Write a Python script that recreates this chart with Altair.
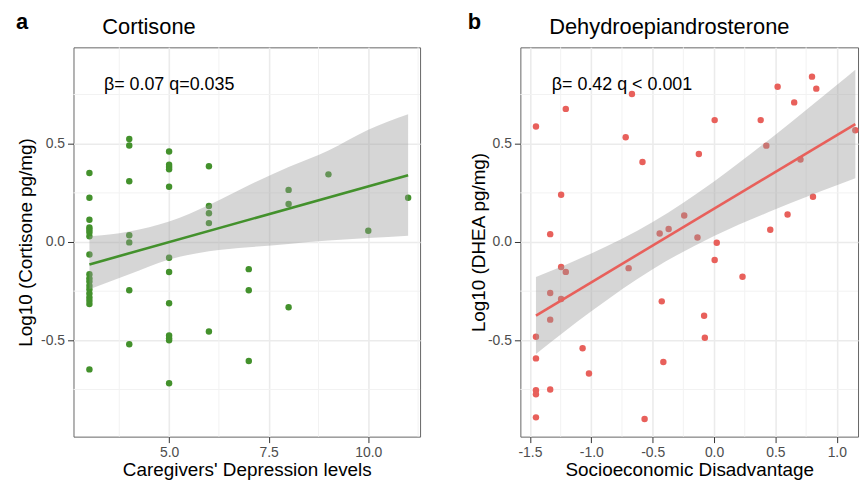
import altair as alt
import pandas as pd

FONT = "Liberation Sans"

# ---------------- Panel a: Cortisone ----------------
depression_levels = [3, 3, 3, 3, 3, 3, 3, 3, 3, 3, 3, 3, 3, 3, 3, 3, 3, 3,
                     4, 4, 4, 4, 4, 4, 4,
                     5, 5, 5, 5, 5, 5, 5, 5, 5, 5, 5, 5,
                     6, 6, 6, 6, 6,
                     7, 7, 7,
                     8, 8, 8,
                     9, 10, 11]
cortisone_log10 = [0.351, 0.225, 0.113, 0.074, 0.062, 0.050, 0.029, -0.064, -0.164,
                   -0.185, -0.201, -0.223, -0.240, -0.262, -0.282, -0.299, -0.316, -0.648,
                   0.524, 0.491, 0.309, 0.034, -0.002, -0.245, -0.520,
                   0.460, 0.393, 0.381, 0.370, 0.281, -0.080, -0.153, -0.312, -0.475,
                   -0.489, -0.500, -0.718,
                   0.385, 0.183, 0.146, 0.096, -0.455,
                   -0.138, -0.245, -0.605,
                   0.265, 0.193, -0.332,
                   0.344, 0.057, 0.225]
fit_a_line_x = [3, 11]
fit_a_line_y = [-0.114, 0.340]
band_a_x = [3, 4, 5, 6, 7, 8, 9, 10, 11]
band_a_lower = [-0.240, -0.164, -0.089, -0.047, -0.027, -0.010, 0.007, 0.020, 0.032]
band_a_upper = [0.029, 0.054, 0.104, 0.188, 0.289, 0.381, 0.465, 0.571, 0.650]
annot_a = ["\u03b2= 0.07 q=0.035"]
annot_a_x = [5.0]
annot_a_y = [0.80]

# ---------------- Panel b: DHEA ----------------
ses_disadvantage = [-1.451, -1.208, -0.669, -0.720, -0.583, -1.246, -1.335, -0.443, -0.370,
                    -1.246, -1.208, -0.696, -1.335, -1.246, -1.335, -0.426, -1.451, -1.451,
                    -1.071, -1.019, -0.413, -1.451, -1.451, -1.335, -1.451, -0.566,
                    0.798, 0.833, 0.518, 0.653, 0.005, 0.380, -0.124, 0.426, 0.704, 1.151,
                    0.806, 0.599, 0.458, -0.243, -0.135, 0.022, 0.005, 0.232, -0.081, -0.075]
dhea_log10 = [0.587, 0.677, 0.753, 0.533, 0.407, 0.240, 0.040, 0.043, 0.066,
              -0.127, -0.152, -0.133, -0.259, -0.290, -0.395, -0.302, -0.482, -0.592,
              -0.540, -0.669, -0.610, -0.754, -0.774, -0.750, -0.892, -0.900,
              0.841, 0.780, 0.790, 0.710, 0.620, 0.620, 0.448, 0.490, 0.420, 0.568,
              0.230, 0.140, 0.062, 0.135, 0.023, -0.004, -0.092, -0.177, -0.375, -0.487]
fit_b_line_x = [-1.451, 1.151]
fit_b_line_y = [-0.374, 0.600]
band_b_x = [-1.451, -1.0, -0.5, 0.0, 0.5, 1.0, 1.151]
band_b_lower = [-0.570, -0.352, -0.138, 0.030, 0.166, 0.288, 0.324]
band_b_upper = [-0.178, -0.058, 0.102, 0.308, 0.546, 0.798, 0.876]
annot_b = ["\u03b2= 0.42 q < 0.001"]
annot_b_x = [-0.75]
annot_b_y = [0.80]

# ---------------- axes ticks ----------------
y_major = [-0.5, 0.0, 0.5]
y_minor = [-0.75, -0.25, 0.25, 0.75]
a_x_major = [5.0, 7.5, 10.0]
a_x_minor = [3.75, 6.25, 8.75, 11.25]
b_x_major = [-1.5, -1.0, -0.5, 0.0, 0.5, 1.0]
b_x_minor = [-1.25, -0.75, -0.25, 0.25, 0.75]

GREEN = "#43912c"
RED = "#e8605b"
LABEL_EXPR = "replace(format(datum.value, '.1f'), '\u2212', '-')"


def make_axis(values, title_pos, orient):
    common = dict(
        values=values, labelExpr=LABEL_EXPR, labelOverlap=False,
        grid=True, gridColor="#ebebeb", gridWidth=1.6,
        domain=False, ticks=True, tickColor="#333333", tickSize=6, tickWidth=1,
        labelFont=FONT, labelFontSize=14, labelColor="#4d4d4d", labelPadding=3,
        titleFont=FONT, titleFontSize=19, titleFontWeight="normal", titleColor="black",
        titleBaseline="middle",
    )
    if orient == "x":
        common["titleY"] = title_pos
    else:
        common["titleX"] = title_pos
    return alt.Axis(**common)


def panel(xv, yv, lx, ly, bx, blo, bhi, ax_text, ax_x, ax_y, xdom, xmaj, xmin_, color,
          title, tag, tag_dx, xtitle, ytitle, ytitle_x, width):
    xscale = alt.Scale(domain=xdom, nice=False, zero=False)
    yscale = alt.Scale(domain=[-0.99, 0.99], nice=False, zero=False)
    xaxis = make_axis(xmaj, 33, "x")
    yaxis = make_axis(y_major, ytitle_x, "y")

    pts = pd.DataFrame({"x": xv, "y": yv})
    line_df = pd.DataFrame({"x": lx, "y": ly})
    band_df = pd.DataFrame({"x": bx, "lo": blo, "hi": bhi})
    ann_df = pd.DataFrame({"x": ax_x, "y": ax_y, "t": ax_text})
    xminor_df = pd.DataFrame({"x": xmin_})
    yminor_df = pd.DataFrame({"y": y_minor})

    X = lambda: alt.X("x:Q", scale=xscale, axis=xaxis, title=xtitle)
    Y = lambda f="y": alt.Y(f"{f}:Q", scale=yscale, axis=yaxis, title=ytitle)

    xminor = alt.Chart(xminor_df).mark_rule(color="#f2f2f2", strokeWidth=1).encode(x=X())
    yminor = alt.Chart(yminor_df).mark_rule(color="#f2f2f2", strokeWidth=1).encode(y=Y())
    points = alt.Chart(pts).mark_circle(size=42, opacity=1, color=color).encode(x=X(), y=Y())
    band = alt.Chart(band_df).mark_area(color="#999999", opacity=0.4, interpolate="monotone").encode(
        x=X(), y=Y("lo"), y2="hi:Q")
    line = alt.Chart(line_df).mark_line(color=color, strokeWidth=2.6).encode(x=X(), y=Y())
    ann = alt.Chart(ann_df).mark_text(font=FONT, fontSize=18, color="black", align="center",
                                      baseline="middle").encode(x=X(), y=Y(), text="t:N")
    tag_layer = alt.Chart(alt.Data(values=[{"tag": tag}])).mark_text(
        font=FONT, fontSize=22, fontWeight="bold", color="black", align="left",
        baseline="alphabetic").encode(x=alt.value(tag_dx), y=alt.value(-18), text="tag:N")
    title_layer = alt.Chart(alt.Data(values=[{"ttl": title}])).mark_text(
        font=FONT, fontSize=22, color="black", align="left",
        baseline="alphabetic").encode(x=alt.value(29), y=alt.value(-13.5), text="ttl:N")

    return alt.layer(xminor, yminor, points, band, line, ann, tag_layer, title_layer).properties(
        width=width, height=392,
    )


left = panel(depression_levels, cortisone_log10, fit_a_line_x, fit_a_line_y, band_a_x,
             band_a_lower, band_a_upper, annot_a, annot_a_x, annot_a_y, [2.6, 11.3],
             a_x_major, a_x_minor, GREEN, "Cortisone", "a", -58,
             "Caregivers' Depression levels", "Log10 (Cortisone pg/mg)", -48, 349)
right = panel(ses_disadvantage, dhea_log10, fit_b_line_x, fit_b_line_y, band_b_x,
              band_b_lower, band_b_upper, annot_b, annot_b_x, annot_b_y, [-1.578, 1.173],
              b_x_major, b_x_minor, RED, "Dehydroepiandrosterone", "b", -53,
              "Socioeconomic Disadvantage", "Log10 (DHEA pg/mg)", -42, 340)

chart = alt.hconcat(left, right, spacing=46).properties(
    padding={"left": 15, "top": 9, "right": 0, "bottom": 0},
    background="white",
).configure_view(stroke="#666666", strokeWidth=1)

chart.save("out.html", embed_options={"renderer": "svg", "actions": False})
